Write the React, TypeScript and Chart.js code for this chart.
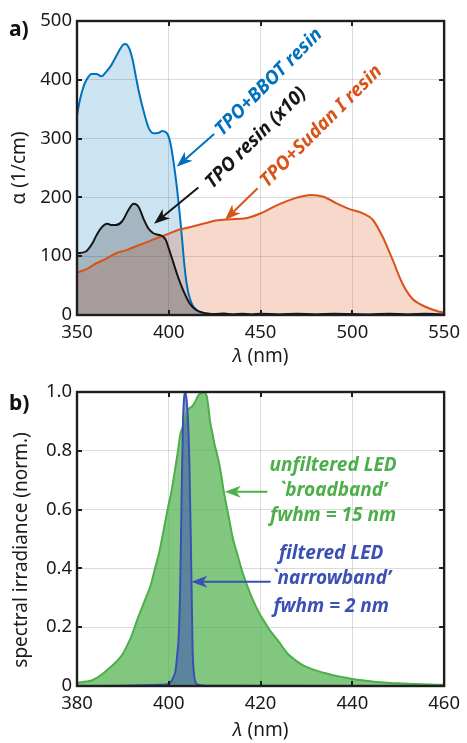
import React, { useEffect, useRef } from "react";
import { Chart, registerables } from "chart.js";
Chart.register(...registerables);

const FONT = '"Noto Sans", "Open Sans", sans-serif';
const BLUE = "#0072BD";
const ORANGE = "#D95319";
const BLACK = "#151515";
const GREEN = "#4DAF4A";
const NBLUE = "#3C50B4";

// ---------- Panel a: absorption coefficient (1/cm) ----------
const bbotWl = [350, 351.6, 353.5, 355.2, 357.9, 360.6, 363.3, 366, 368.7, 372.2, 374.9, 376.3, 378.5, 380.3, 382.1, 383.9, 386.6, 389.2, 391.9, 394.6, 396.4, 399.1, 400.9, 402.7, 404.5, 405.5, 406.5, 407.5, 408.5, 409.5, 410.5, 411.5, 413, 415, 418, 422, 430, 450, 500, 550];
const bbotAlpha = [340, 366, 388, 400, 410, 410, 406, 414, 425, 445, 459, 461, 453, 434, 405, 377, 343, 317, 309, 310, 313, 309, 292, 258, 215, 185, 155, 120, 85, 58, 40, 28, 16, 9, 4, 1.5, 0.5, 0.5, 0.5, 0.5];

const tpoWl = [350, 354.8, 358.4, 360.5, 362.9, 366.5, 369, 371, 374.5, 378.1, 380.8, 383.5, 386.2, 388.9, 391.6, 393.5, 395.2, 397, 398.5, 399.7, 402.3, 405, 407.7, 411.3, 414.9, 418.5, 421, 425, 430, 435, 440, 445, 450, 460, 470, 480, 490, 500, 510, 520, 530, 540, 550];
const tpoAlpha = [105, 108, 122, 135, 147, 155, 153, 153, 159, 179, 189, 184, 164, 147, 139, 137, 136, 133, 127, 116, 91, 65, 43, 20, 8.5, 4, 2.5, 1.5, 2.5, 1, 2, 1, 2, 1, 2, 1, 2, 1.5, 1, 2, 1, 2, 1];

const sudanWl = [350, 355.2, 360.6, 366, 371.2, 376.6, 382.1, 387.4, 392.8, 398.2, 405.4, 412.5, 419.7, 426.8, 434, 441.2, 450.1, 459.1, 468.1, 473, 477.9, 484.2, 491.4, 498.5, 505.7, 511.1, 516.5, 521.9, 527.2, 532.6, 539.8, 546.9, 550];
const sudanAlpha = [72, 78, 88, 96, 105, 110, 117, 123, 130, 136, 145, 150, 156, 161, 163, 164, 173, 187, 198, 202, 204, 201, 190, 180, 173, 162, 133, 94, 54, 28, 14, 6, 4];

const aXTicks = [350, 400, 450, 500, 550];
const aYTicks = [0, 100, 200, 300, 400, 500];

// ---------- Panel b: LED spectral irradiance (normalised) ----------
const ledWl = [380, 381, 382, 383, 384, 385, 386, 387, 388, 389, 390, 391, 392, 393, 394, 395, 396, 397, 398, 399, 400, 400.5, 401, 401.5, 402, 402.5, 403, 403.5, 404, 404.5, 405, 405.5, 406, 406.5, 407, 407.5, 408, 408.3, 408.7, 409, 409.5, 410, 410.5, 411, 411.5, 412, 413, 414, 415, 416, 417, 418, 419, 420, 421, 422, 423, 424, 425, 426, 427, 428, 429, 430, 432, 434, 436, 438, 440, 443, 446, 450, 455, 460];
const broadband = [0.012, 0.013, 0.015, 0.018, 0.025, 0.035, 0.047, 0.06, 0.074, 0.09, 0.11, 0.14, 0.175, 0.22, 0.26, 0.3, 0.34, 0.4, 0.46, 0.54, 0.62, 0.655, 0.7, 0.75, 0.8, 0.855, 0.88, 0.91, 0.935, 0.945, 0.95, 0.96, 0.975, 0.99, 0.995, 1.0, 0.995, 0.985, 0.94, 0.9, 0.86, 0.82, 0.79, 0.755, 0.71, 0.66, 0.58, 0.5, 0.445, 0.39, 0.345, 0.305, 0.27, 0.24, 0.215, 0.19, 0.17, 0.15, 0.128, 0.108, 0.095, 0.083, 0.073, 0.065, 0.053, 0.044, 0.036, 0.03, 0.024, 0.018, 0.013, 0.009, 0.006, 0.004];

const nbWl = [380, 399.5, 400.5, 401, 401.5, 401.8, 402.2, 402.5, 402.8, 403.1, 403.6, 403.9, 404.2, 404.5, 404.8, 405, 405.2, 405.5, 405.8, 406.2, 408, 460];
const narrowband = [0, 0.005, 0.015, 0.03, 0.055, 0.1, 0.18, 0.35, 0.65, 0.9, 1.0, 0.97, 0.9, 0.75, 0.5, 0.3, 0.12, 0.04, 0.015, 0.005, 0.001, 0];

const bXTicks = [380, 400, 420, 440, 460];
const bYTicks = [0, 0.2, 0.4, 0.6, 0.8, 1.0];

// annotations (positions in data units)
const annotA = [
  { text: "TPO+BBOT resin", color: BLUE, tx: 454.5, ty: 396, tailX: 424.7, tailY: 308, tipX: 404.3, tipY: 252 },
  { text: "TPO resin (x10)", color: BLACK, tx: 447.5, ty: 301, tailX: 416.1, tailY: 217, tipX: 392.0, tipY: 155 },
  { text: "TPO+Sudan I resin", color: ORANGE, tx: 483, ty: 321, tailX: 448.4, tailY: 215.5, tipX: 430.6, tipY: 161.6 },
];
const annotB = [
  { lines: ["unfiltered LED", "`broadband\u2019", "fwhm = 15 nm"], color: GREEN, cx: 435.8, ys: [0.748, 0.664, 0.579], tailX: 421.5, tipX: 412.2, arrowY: 0.661 },
  { lines: ["filtered LED", "`narrowband\u2019", "fwhm = 2 nm"], color: NBLUE, cx: 435.4, ys: [0.451, 0.366, 0.27], tailX: 422.2, tipX: 404.9, arrowY: 0.355 },
];

const W = 467;
const HA = 370;
const HB = 373;
const PLOT_LEFT = 77;
const PLOT_RIGHT = 449;

function pts(xs: number[], ys: number[]) {
  return xs.map((x, i) => ({ x, y: ys[i] }));
}

function drawArrow(ctx: CanvasRenderingContext2D, x1: number, y1: number, x2: number, y2: number, color: string) {
  const head = 16, width = 12;
  const ang = Math.atan2(y2 - y1, x2 - x1);
  const c = Math.cos(ang), s = Math.sin(ang);
  const bx = x2 - head * c, by = y2 - head * s;
  ctx.save();
  ctx.strokeStyle = color;
  ctx.lineWidth = 2;
  ctx.beginPath();
  ctx.moveTo(x1, y1);
  ctx.lineTo(x2 - head * 0.7 * c, y2 - head * 0.7 * s);
  ctx.stroke();
  ctx.fillStyle = color;
  ctx.beginPath();
  ctx.moveTo(x2, y2);
  ctx.lineTo(bx + (width / 2) * s, by - (width / 2) * c);
  ctx.lineTo(x2 - head * 0.72 * c, y2 - head * 0.72 * s);
  ctx.lineTo(bx - (width / 2) * s, by + (width / 2) * c);
  ctx.closePath();
  ctx.fill();
  ctx.restore();
}

function drawFrame(chart: any, xTicks: number[], yTicks: number[]) {
  const ctx = chart.ctx as CanvasRenderingContext2D;
  const a = chart.chartArea;
  const xs = chart.scales.x, ys = chart.scales.y;
  ctx.save();
  ctx.strokeStyle = "#1e1e1e";
  ctx.lineWidth = 2;
  const tl = 5;
  ctx.beginPath();
  for (const v of xTicks) {
    const p = Math.round(xs.getPixelForValue(v));
    ctx.moveTo(p, a.bottom); ctx.lineTo(p, a.bottom - tl);
    ctx.moveTo(p, a.top); ctx.lineTo(p, a.top + tl);
  }
  for (const v of yTicks) {
    const p = Math.round(ys.getPixelForValue(v));
    ctx.moveTo(a.left, p); ctx.lineTo(a.left + tl, p);
    ctx.moveTo(a.right, p); ctx.lineTo(a.right - tl, p);
  }
  ctx.stroke();
  ctx.lineWidth = 2.4;
  ctx.strokeRect(a.left, a.top, a.right - a.left, a.bottom - a.top);
  ctx.restore();
}

function drawLambdaTitle(ctx: CanvasRenderingContext2D, cx: number, cy: number) {
  ctx.save();
  ctx.fillStyle = "#1a1a1a";
  ctx.textBaseline = "middle";
  ctx.textAlign = "left";
  const f1 = `italic 19px ${FONT}`;
  const f2 = `19px ${FONT}`;
  ctx.font = f1;
  const w1 = ctx.measureText("\u03bb").width;
  ctx.font = f2;
  const w2 = ctx.measureText(" (nm)").width;
  const x0 = cx - (w1 + w2) / 2;
  ctx.font = f1;
  ctx.fillText("\u03bb", x0, cy);
  ctx.font = f2;
  ctx.fillText(" (nm)", x0 + w1, cy);
  ctx.restore();
}

function drawVTitle(ctx: CanvasRenderingContext2D, text: string, cx: number, cy: number) {
  ctx.save();
  ctx.fillStyle = "#1a1a1a";
  ctx.font = `19px ${FONT}`;
  ctx.textAlign = "center";
  ctx.textBaseline = "middle";
  ctx.translate(cx, cy);
  ctx.rotate(-Math.PI / 2);
  ctx.fillText(text, 0, 0);
  ctx.restore();
}

function drawPanelLabel(ctx: CanvasRenderingContext2D, text: string, x: number, y: number) {
  ctx.save();
  ctx.fillStyle = "#111";
  ctx.font = `bold 21px ${FONT}`;
  ctx.textAlign = "left";
  ctx.textBaseline = "alphabetic";
  ctx.fillText(text, x, y);
  ctx.restore();
}

function scaleOpts(min: number, max: number, step: number, fitSize: (s: any) => void, cb?: (v: any) => string, pad = 6) {
  return {
    type: "linear" as const,
    min,
    max,
    afterFit: fitSize,
    ticks: {
      stepSize: step,
      autoSkip: false,
      maxRotation: 0,
      padding: pad,
      color: "#1a1a1a",
      font: { family: FONT, size: 18.5 },
      callback: cb,
    },
    grid: { color: "rgba(0,0,0,0.14)", lineWidth: 1, drawTicks: false },
    border: { display: false },
  };
}

const ANNOT_FONT = `italic bold 19px ${FONT}`;

export default function App() {
  const refA = useRef<HTMLCanvasElement>(null);
  const refB = useRef<HTMLCanvasElement>(null);

  useEffect(() => {
    const chartA = new Chart(refA.current!, {
      type: "line",
      data: {
        datasets: [
          { data: pts(tpoWl, tpoAlpha), borderColor: BLACK, backgroundColor: "rgba(0,0,0,0.2)", fill: "origin", borderWidth: 2, pointRadius: 0, cubicInterpolationMode: "monotone" },
          { data: pts(sudanWl, sudanAlpha), borderColor: ORANGE, backgroundColor: "rgba(217,83,25,0.22)", fill: "origin", borderWidth: 2, pointRadius: 0, cubicInterpolationMode: "monotone" },
          { data: pts(bbotWl, bbotAlpha), borderColor: BLUE, backgroundColor: "rgba(0,114,189,0.2)", fill: "origin", borderWidth: 2, pointRadius: 0, cubicInterpolationMode: "monotone" },
        ],
      },
      options: {
        animation: false,
        responsive: false,
        devicePixelRatio: 1,
        layout: { padding: { left: 0, right: W - PLOT_RIGHT, top: 21, bottom: 0 } },
        plugins: { legend: { display: false }, tooltip: { enabled: false }, filler: { drawTime: "beforeDatasetsDraw" } },
        scales: {
          x: scaleOpts(350, 550, 50, (s: any) => { s.height = HA - 315; }, undefined, 7),
          y: scaleOpts(0, 500, 100, (s: any) => { s.width = PLOT_LEFT; }, undefined, 5),
        },
      },
      plugins: [
        {
          id: "decorA",
          afterDraw(chart: any) {
            const ctx = chart.ctx as CanvasRenderingContext2D;
            const xs = chart.scales.x, ys = chart.scales.y;
            const a = chart.chartArea;
            drawFrame(chart, aXTicks, aYTicks);
            drawVTitle(ctx, "\u03b1 (1/cm)", 20, (a.top + a.bottom) / 2);
            drawLambdaTitle(ctx, (a.left + a.right) / 2, 357);
            drawPanelLabel(ctx, "a)", 9, 36);
            for (const an of annotA) {
              drawArrow(ctx, xs.getPixelForValue(an.tailX), ys.getPixelForValue(an.tailY), xs.getPixelForValue(an.tipX), ys.getPixelForValue(an.tipY), an.color);
              ctx.save();
              ctx.fillStyle = an.color;
              ctx.font = ANNOT_FONT;
              ctx.textAlign = "center";
              ctx.textBaseline = "middle";
              ctx.translate(xs.getPixelForValue(an.tx), ys.getPixelForValue(an.ty));
              ctx.rotate(-Math.PI / 4);
              ctx.fillText(an.text, 0, 0);
              ctx.restore();
            }
          },
        },
      ],
    } as any);

    const chartB = new Chart(refB.current!, {
      type: "line",
      data: {
        datasets: [
          { data: pts(nbWl, narrowband), borderColor: NBLUE, backgroundColor: "rgba(60,80,180,0.55)", fill: "origin", borderWidth: 2, pointRadius: 0, cubicInterpolationMode: "monotone" },
          { data: pts(ledWl, broadband), borderColor: GREEN, backgroundColor: "rgba(77,175,74,0.7)", fill: "origin", borderWidth: 2, pointRadius: 0, cubicInterpolationMode: "monotone" },
        ],
      },
      options: {
        animation: false,
        responsive: false,
        devicePixelRatio: 1,
        layout: { padding: { left: 0, right: W - PLOT_RIGHT, top: 22, bottom: 0 } },
        plugins: { legend: { display: false }, tooltip: { enabled: false }, filler: { drawTime: "beforeDatasetsDraw" } },
        scales: {
          x: scaleOpts(380, 460, 20, (s: any) => { s.height = HB - 316; }, undefined, 7),
          y: scaleOpts(0, 1, 0.2, (s: any) => { s.width = PLOT_LEFT; }, (v: any) => (Math.abs(v) < 1e-9 ? "0" : Number(v).toFixed(1)), 5),
        },
      },
      plugins: [
        {
          id: "decorB",
          afterDraw(chart: any) {
            const ctx = chart.ctx as CanvasRenderingContext2D;
            const xs = chart.scales.x, ys = chart.scales.y;
            const a = chart.chartArea;
            drawFrame(chart, bXTicks, bYTicks);
            drawVTitle(ctx, "spectral irradiance (norm.)", 22, 180);
            drawLambdaTitle(ctx, (a.left + a.right) / 2, 361);
            drawPanelLabel(ctx, "b)", 9, 40);
            for (const an of annotB) {
              drawArrow(ctx, xs.getPixelForValue(an.tailX), ys.getPixelForValue(an.arrowY), xs.getPixelForValue(an.tipX), ys.getPixelForValue(an.arrowY), an.color);
              ctx.save();
              ctx.fillStyle = an.color;
              ctx.font = ANNOT_FONT;
              ctx.textAlign = "center";
              ctx.textBaseline = "middle";
              an.lines.forEach((ln, i) => {
                ctx.fillText(ln, xs.getPixelForValue(an.cx), ys.getPixelForValue(an.ys[i]));
              });
              ctx.restore();
            }
          },
        },
      ],
    } as any);

    return () => {
      chartA.destroy();
      chartB.destroy();
    };
  }, []);

  return (
    <div style={{ position: "absolute", left: 0, top: 0, width: W, height: HA + HB, background: "#fff" }}>
      <canvas ref={refA} width={W} height={HA} style={{ display: "block", width: W, height: HA }} />
      <canvas ref={refB} width={W} height={HB} style={{ display: "block", width: W, height: HB }} />
    </div>
  );
}
